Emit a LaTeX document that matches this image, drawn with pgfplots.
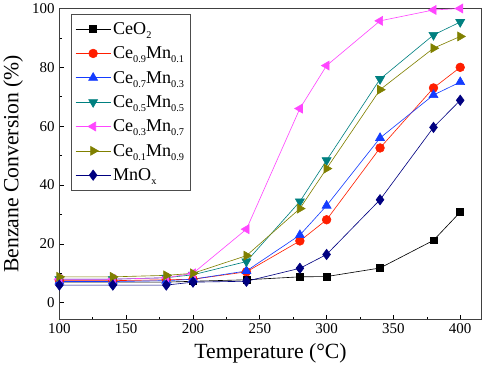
\documentclass[border=0pt]{standalone}
\usepackage{pgfplots}
\pgfplotsset{compat=1.18}
\usepackage{fontspec}
\setmainfont{Liberation Serif}
\definecolor{cteal}{RGB}{0,128,128}
\definecolor{cmag}{RGB}{255,70,255}
\definecolor{colive}{RGB}{128,128,0}
\definecolor{cnavy}{RGB}{0,0,128}
\definecolor{cred}{RGB}{255,30,0}
\definecolor{cblue}{RGB}{20,60,255}
\newcommand{\sub}[1]{\raisebox{-0.5ex}{\fontsize{10}{10}\selectfont #1}}
\begin{document}
\begin{tikzpicture}
\begin{axis}[
  scale only axis, width=409pt, height=301pt,
  xmin=100, xmax=416, ymin=-5.6, ymax=100,
  xtick={100,150,...,400}, ytick={0,20,...,100},
  minor x tick num=1, minor y tick num=1,
  tick pos=left, tick align=inside,
  major tick length=4pt, minor tick length=2.5pt,
  axis line style={draw=black!75, line width=0.8pt},
  every tick/.style={black, line width=0.6pt},
  /pgf/number format/assume math mode=true,
  tick label style={font=\fontsize{14.5}{14.5}\selectfont},
  xticklabel style={yshift=-1pt},
  yticklabel style={xshift=-1pt},
  xlabel={Temperature (°C)}, ylabel={Benzane Conversion (\%)},
  label style={font=\fontsize{21}{21}\selectfont},
  xlabel style={yshift=-2pt},
  ylabel style={yshift=2pt},
  legend style={font=\fontsize{17.5}{17.5}\selectfont, draw=black!70, line width=0.6pt, at={(0.027,0.983)}, anchor=north west, row sep=6.5pt, inner xsep=4pt, inner ysep=6pt},
  legend cell align=left,
  legend image code/.code={
    \draw[mark repeat=2,mark phase=2] plot coordinates {(0cm,0cm) (0.6cm,0cm) (1.2cm,0cm)};
  },
  every axis plot/.append style={line width=0.6pt},
]
\addplot[black, mark=square*, mark size=3.3pt] coordinates {(100,7) (140,7) (180,7) (200,7.3) (240,7.8) (280,8.8) (300,8.9) (340,11.8) (380,21.2) (400,30.8)};
\addlegendentry{CeO\sub{2}}
\addplot[cred, mark=*, mark size=4.2pt, mark options={fill=cred}] coordinates {(100,7.5) (140,7.5) (180,7.8) (200,8) (240,10.5) (280,21) (300,28.2) (340,52.6) (380,73) (400,80)};
\addlegendentry{Ce\sub{0.9}Mn\sub{0.1}}
\addplot[cblue, mark=triangle*, mark size=5pt, mark options={fill=cblue}] coordinates {(100,7.2) (140,7.2) (180,7.5) (200,8) (240,10.8) (280,23) (300,33) (340,56) (380,70.6) (400,75)};
\addlegendentry{Ce\sub{0.7}Mn\sub{0.3}}
\addplot[cteal, mark=triangle*, mark size=5pt, mark options={fill=cteal, rotate=180}] coordinates {(100,8) (140,8) (180,8.5) (200,9.5) (240,14) (280,34.4) (300,48.4) (340,76) (380,91) (400,95.4)};
\addlegendentry{Ce\sub{0.5}Mn\sub{0.5}}
\addplot[cmag, mark=triangle*, mark size=5pt, mark options={fill=cmag, rotate=90}] coordinates {(100,8) (140,8) (180,8.5) (200,10) (240,25) (280,66) (300,80.6) (340,95.8) (380,99.5) (400,100)};
\addlegendentry{Ce\sub{0.3}Mn\sub{0.7}}
\addplot[colive, mark=triangle*, mark size=5pt, mark options={fill=colive, rotate=-90}] coordinates {(100,8.8) (140,8.8) (180,9.3) (200,10) (240,16) (280,32) (300,45.6) (340,72.4) (380,86.5) (400,90.5)};
\addlegendentry{Ce\sub{0.1}Mn\sub{0.9}}
\addplot[cnavy, mark=diamond*, mark size=5pt, mark options={fill=cnavy}] coordinates {(100,6) (140,6) (180,6) (200,7) (240,7.3) (280,11.7) (300,16.4) (340,35) (380,59.6) (400,68.8)};
\addlegendentry{MnO\sub{x}}
\end{axis}
\end{tikzpicture}
\end{document}
